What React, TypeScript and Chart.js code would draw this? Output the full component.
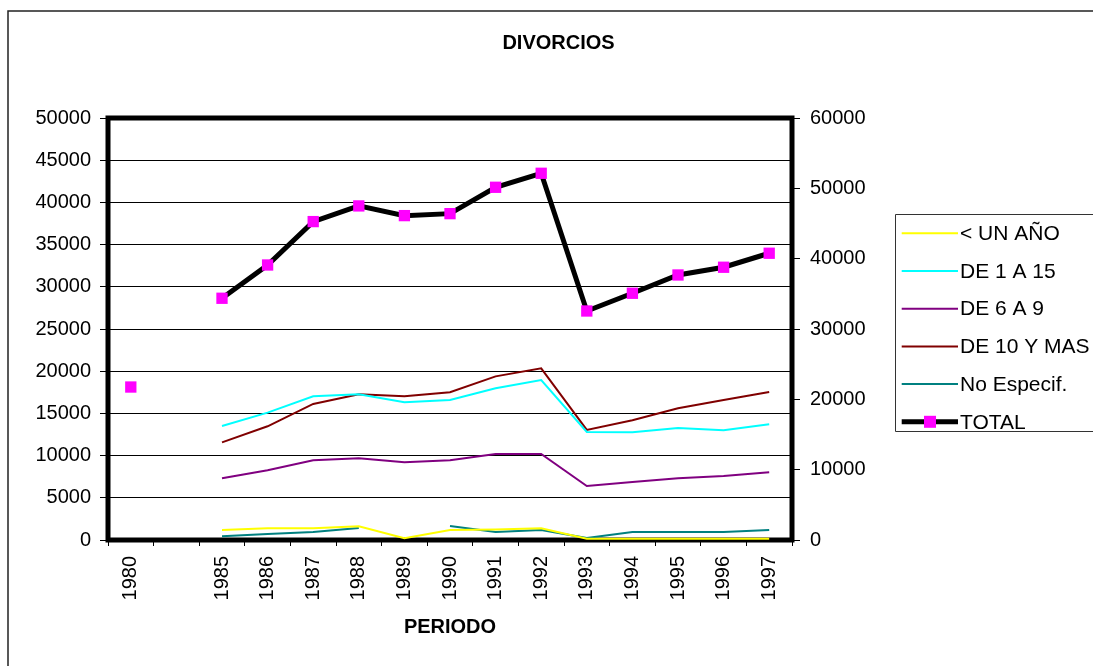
import React, { useEffect, useRef } from 'react';
import { Chart, registerables } from 'chart.js';

Chart.register(...registerables);

const FONT = "'Liberation Sans', Arial, sans-serif";

const CATEGORIES = ['1980', '', '1985', '1986', '1987', '1988', '1989', '1990', '1991', '1992', '1993', '1994', '1995', '1996', '1997'];

const MENOS_UN_ANO = [null, null, 1190, 1380, 1380, 1620, 200, 1190, 1250, 1380, 150, 150, 150, 150, 150];
const DE_1_A_15 = [null, null, 13510, 15090, 17030, 17260, 16310, 16590, 17970, 18960, 12800, 12760, 13270, 13000, 13710];
const DE_6_A_9 = [null, null, 7310, 8260, 9440, 9680, 9200, 9440, 10190, 10190, 6400, 6870, 7310, 7580, 8020];
const DE_10_Y_MAS = [null, null, 11570, 13470, 16120, 17260, 17030, 17500, 19390, 20340, 13040, 14180, 15600, 16590, 17540];
const NO_ESPECIF = [null, null, 440, 710, 950, 1420, null, 1660, 950, 1190, 240, 950, 950, 950, 1190];
const TOTAL = [21750, null, 34370, 39100, 45270, 47500, 46120, 46400, 50150, 52140, 32560, 35080, 37680, 38780, 40770];

const LEFT_TICKS_MAX = 50000;
const LEFT_STEP = 5000;
const RIGHT_TICKS_MAX = 60000;
const RIGHT_STEP = 10000;

const W = 1093;
const H = 666;

const decorPlugin = {
  id: 'decor',
  beforeDatasetsDraw(chart: any) {
    const { ctx, chartArea } = chart;
    const { left, top, right, bottom } = chartArea;
    ctx.save();
    ctx.lineWidth = 5;
    ctx.strokeStyle = '#000';
    ctx.strokeRect(left, top, right - left, bottom - top);
    ctx.restore();
  },
  afterDraw(chart: any) {
    const { ctx, width } = chart;
    ctx.save();
    // outer frame (only top and left edges fall inside the window)
    ctx.strokeStyle = '#222';
    ctx.lineWidth = 1.5;
    ctx.beginPath();
    ctx.moveTo(8, 2000);
    ctx.lineTo(8, 11);
    ctx.lineTo(width + 10, 11);
    ctx.stroke();

    // legend (box runs past the right edge of the window)
    const boxL = 895.5, boxT = 214.5, boxB = 431.5;
    ctx.lineWidth = 1;
    ctx.strokeStyle = '#333';
    ctx.beginPath();
    ctx.moveTo(width + 20, boxT);
    ctx.lineTo(boxL, boxT);
    ctx.lineTo(boxL, boxB);
    ctx.lineTo(width + 20, boxB);
    ctx.stroke();
    const ds = chart.data.datasets;
    ctx.font = `21px ${FONT}`;
    ctx.textBaseline = 'middle';
    ctx.textAlign = 'left';
    ds.forEach((d: any, i: number) => {
      const y = 233.3 + i * 37.7;
      ctx.strokeStyle = d.borderColor;
      ctx.lineWidth = d.borderWidth;
      ctx.beginPath();
      ctx.moveTo(901.7, y);
      ctx.lineTo(958, y);
      ctx.stroke();
      if (d.pointRadius > 0) {
        ctx.fillStyle = d.pointBackgroundColor;
        ctx.fillRect(930 - 6, y - 6, 12, 12);
      }
      ctx.fillStyle = '#000';
      ctx.fillText(d.label, 960, y + 1);
    });
    ctx.restore();
  },
};

export default function App() {
  const ref = useRef<HTMLCanvasElement | null>(null);

  useEffect(() => {
    document.documentElement.style.overflow = 'hidden';
    const canvas = ref.current;
    if (!canvas) return;
    const lineDs = (label: string, data: (number | null)[], color: string) => ({
      label,
      data,
      borderColor: color,
      backgroundColor: color,
      borderWidth: 2,
      pointRadius: 0,
      pointHoverRadius: 0,
      tension: 0,
      spanGaps: false,
      yAxisID: 'y',
    });
    const plain = (v: any) => String(v);
    const chart = new Chart(canvas, {
      type: 'line',
      data: {
        labels: CATEGORIES,
        datasets: [
          lineDs('< UN AÑO', MENOS_UN_ANO, '#FFFF00'),
          lineDs('DE 1 A 15', DE_1_A_15, '#00FFFF'),
          lineDs('DE 6 A 9', DE_6_A_9, '#800080'),
          lineDs('DE 10 Y MAS', DE_10_Y_MAS, '#800000'),
          lineDs('No Especif.', NO_ESPECIF, '#008080'),
          {
            label: 'TOTAL',
            data: TOTAL,
            borderColor: '#000000',
            backgroundColor: '#FF00FF',
            borderWidth: 5,
            pointStyle: 'rect',
            pointRadius: 8,
            pointBorderWidth: 0,
            pointBackgroundColor: '#FF00FF',
            pointBorderColor: '#FF00FF',
            tension: 0,
            spanGaps: false,
            yAxisID: 'y1',
          } as any,
        ],
      },
      options: {
        animation: false,
        responsive: false,
        maintainAspectRatio: false,
        layout: { padding: { left: 24, right: 0, top: 0, bottom: 0 } },
        plugins: {
          legend: { display: false },
          tooltip: { enabled: false },
          title: {
            display: true,
            text: 'DIVORCIOS',
            color: '#000',
            font: { family: FONT, size: 20, weight: 'bold' },
            padding: { top: 31, bottom: 63 },
          },
        },
        scales: {
          x: {
            type: 'category',
            offset: true,
            grid: {
              offset: true,
              drawOnChartArea: false,
              drawTicks: true,
              tickLength: 6,
              color: '#000',
              lineWidth: 1,
            },
            border: { display: false },
            ticks: {
              autoSkip: false,
              minRotation: 90,
              maxRotation: 90,
              padding: 10,
              color: '#000',
              font: { family: FONT, size: 20 },
            },
            title: {
              display: true,
              text: 'PERIODO',
              color: '#000',
              font: { family: FONT, size: 20, weight: 'bold' },
              padding: { top: 0, bottom: 26.5 },
            },
            afterFit: (scale: any) => {
              scale.height = 126;
            },
          },
          y: {
            type: 'linear',
            position: 'left',
            min: 0,
            max: LEFT_TICKS_MAX,
            ticks: {
              stepSize: LEFT_STEP,
              padding: 9,
              color: '#000',
              font: { family: FONT, size: 20 },
              callback: plain,
            },
            grid: {
              color: '#000',
              lineWidth: 1,
              drawTicks: true,
              tickLength: 8,
            },
            border: { display: false },
            afterFit: (scale: any) => {
              scale.width = 84;
            },
          },
          y1: {
            type: 'linear',
            position: 'right',
            min: 0,
            max: RIGHT_TICKS_MAX,
            ticks: {
              stepSize: RIGHT_STEP,
              padding: 10,
              color: '#000',
              font: { family: FONT, size: 20 },
              callback: plain,
            },
            grid: {
              drawOnChartArea: false,
              color: '#000',
              lineWidth: 1,
              drawTicks: true,
              tickLength: 8,
            },
            border: { display: false },
            afterFit: (scale: any) => {
              scale.width = 301;
            },
          },
        },
      },
      plugins: [decorPlugin],
    } as any);
    return () => chart.destroy();
  }, []);

  return (
    <div style={{ position: 'fixed', left: 0, top: 0, width: W, height: H }}>
      <canvas ref={ref} width={W} height={H} style={{ display: 'block', width: W, height: H }} />
    </div>
  );
}
